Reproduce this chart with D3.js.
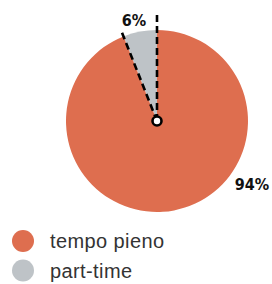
<!DOCTYPE html>
<html lang="it">
<head>
<meta charset="UTF-8">
<style>
  body { margin: 0; background: #fff; }
  svg { display: block; }
</style>
</head>
<body>
<div id="chart"></div>
<script src="https://d3js.org/d3.v7.min.js"></script>
<script>
const categories = ['tempo pieno', 'part-time'];
const values = [94, 6];
const labels = ['94%', '6%'];
const colors = ['#de6e4f', '#bec3c7'];

const width = 272, height = 284;
const cx = 157, cy = 121, radius = 91;

const svg = d3.select('#chart').append('svg')
  .attr('width', width)
  .attr('height', height);

// part-time slice goes counter-clockwise from 12 o'clock
const pie = d3.pie().sort(null)
  .startAngle(0).endAngle(-2 * Math.PI);
const arcs = pie([values[1], values[0]]);
const arc = d3.arc().innerRadius(0).outerRadius(radius);

const g = svg.append('g').attr('transform', `translate(${cx},${cy})`);

g.selectAll('path.slice')
  .data(arcs)
  .enter()
  .append('path')
  .attr('class', 'slice')
  .attr('d', arc)
  .attr('fill', (d, i) => i === 0 ? colors[1] : colors[0]);

// dashed boundary lines
const bounds = [
  { a: arcs[0].startAngle, r: 108 },
  { a: arcs[0].endAngle, r: 96 }
];
g.selectAll('line.edge')
  .data(bounds)
  .enter()
  .append('line')
  .attr('class', 'edge')
  .attr('x1', 0).attr('y1', 0)
  .attr('x2', d => d.r * Math.sin(d.a))
  .attr('y2', d => -d.r * Math.cos(d.a))
  .attr('stroke', '#000')
  .attr('stroke-width', 2.6)
  .attr('stroke-dasharray', '7,4');

g.append('circle')
  .attr('r', 4.5)
  .attr('fill', '#fff')
  .attr('stroke', '#000')
  .attr('stroke-width', 2.6);

const labelStyle = sel => sel
  .attr('font-family', 'DejaVu Sans')
  .attr('font-stretch', 'condensed')
  .attr('font-weight', 'bold')
  .attr('font-size', 16)
  .attr('fill', '#111')
  .attr('text-anchor', 'middle');

svg.append('text')
  .attr('x', 134).attr('y', 26)
  .text(labels[1])
  .call(labelStyle);

svg.append('text')
  .attr('x', 252).attr('y', 190)
  .text(labels[0])
  .call(labelStyle);

// legend
const legend = svg.selectAll('g.legend')
  .data(categories)
  .enter()
  .append('g')
  .attr('class', 'legend')
  .attr('transform', (d, i) => `translate(23, ${241 + i * 29.5})`);

legend.append('circle')
  .attr('r', 11)
  .attr('fill', (d, i) => colors[i]);

legend.append('text')
  .attr('x', 27)
  .attr('y', 7)
  .attr('font-family', 'Liberation Sans, Arial, sans-serif')
  .attr('font-size', 20)
  .attr('letter-spacing', 0.4)
  .attr('fill', '#333')
  .text(d => d);
</script>
</body>
</html>
